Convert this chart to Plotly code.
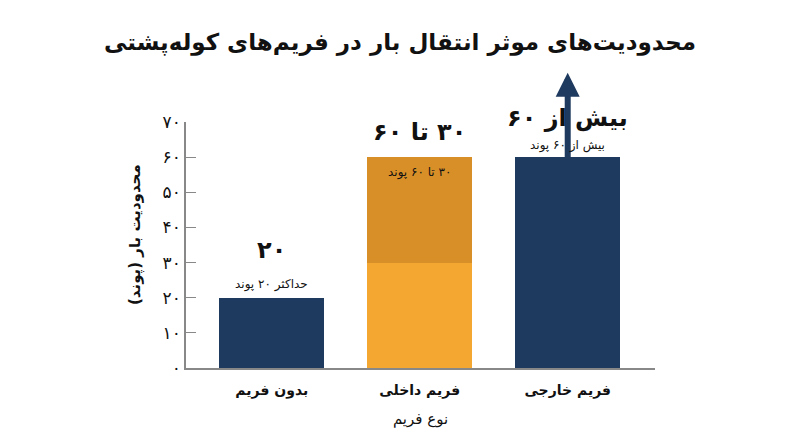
import plotly.graph_objects as go

# داده‌ها
categories = ["بدون فریم", "فریم داخلی", "فریم خارجی"]
base_values = [20, 30, 60]
top_values = [0, 30, 0]
big_labels = ["۲۰", "۳۰ تا ۶۰", "بیش از ۶۰"]
small_labels = ["حداکثر ۲۰ پوند", "۳۰ تا ۶۰ پوند", "بیش از ۶۰ پوند"]
arrow_tip = 84
y_ticks = [0, 10, 20, 30, 40, 50, 60, 70]
y_tick_text = ["۰", "۱۰", "۲۰", "۳۰", "۴۰", "۵۰", "۶۰", "۷۰"]

NAVY = "#1f3a5f"
ORANGE = "#f4a731"
DARK_ORANGE = "#d98f28"
FONT = "DejaVu Sans, sans-serif"


def rtl(s):
    # متن راست‌به‌چپ
    return "\u202b" + s + "\u202c"


fig = go.Figure()

fig.add_trace(go.Bar(
    x=categories,
    y=base_values,
    marker_color=[NAVY, ORANGE, NAVY],
    marker_line_width=0,
    width=0.71,
    hoverinfo="skip",
))
fig.add_trace(go.Bar(
    x=categories,
    y=top_values,
    marker_color=DARK_ORANGE,
    marker_line_width=0,
    width=0.71,
    hoverinfo="skip",
))

totals = [b + t for b, t in zip(base_values, top_values)]

# فلش بالای ستون سوم
fig.add_annotation(
    x=categories[2], y=arrow_tip, ax=categories[2], ay=totals[2] - 1,
    xref="x", yref="y", axref="x", ayref="y",
    showarrow=True, arrowhead=2, arrowsize=0.8, arrowwidth=6,
    arrowcolor=NAVY, text="",
)

# برچسب‌ها
big_shift = [48, 25, 39]
small_shift = [13, -15, 12]
for i, cat in enumerate(categories):
    fig.add_annotation(
        x=cat, y=totals[i], yshift=big_shift[i], text="<b>" + rtl(big_labels[i]) + "</b>",
        showarrow=False, font=dict(family=FONT, size=24, color="#111111"),
    )
    fig.add_annotation(
        x=cat, y=totals[i], yshift=small_shift[i], text=rtl(small_labels[i]),
        showarrow=False, font=dict(family=FONT, size=12, color="#111111"),
    )

# عنوان محور عمودی
fig.add_annotation(
    xref="paper", yref="paper", x=0, y=0.5, xanchor="center", yanchor="middle",
    xshift=-51, yshift=10,
    text="<b>" + rtl("محدودیت بار (پوند)") + "</b>", textangle=-90,
    showarrow=False, font=dict(family=FONT, size=15, color="#111111"),
)

fig.update_layout(
    width=800, height=447,
    barmode="stack",
    showlegend=False,
    plot_bgcolor="white",
    paper_bgcolor="white",
    margin=dict(l=178, r=153, t=114, b=87),
    font=dict(family=FONT, color="#111111"),
    title=dict(
        text="<b>" + rtl("محدودیت‌های موثر انتقال بار در فریم‌های کوله‌پشتی") + "</b>",
        x=0.49, xanchor="center", y=0.924, yanchor="middle",
        font=dict(size=23, family=FONT, color="#111111"),
    ),
)

fig.update_xaxes(
    range=[-0.58, 2.59],
    showline=True, linecolor="#888888", linewidth=1.5,
    ticks="", ticklabelstandoff=8,
    tickvals=categories, ticktext=["<b>" + c + "</b>" for c in categories],
    tickfont=dict(size=14, color="#111111"),
    title=dict(text=rtl("نوع فریم"), font=dict(size=15), standoff=16),
    automargin=False,
)
fig.update_yaxes(
    range=[0, 70],
    tickvals=y_ticks, ticktext=y_tick_text,
    showline=True, linecolor="#888888", linewidth=1.5,
    showgrid=False, zeroline=False,
    ticks="inside", ticklen=10, tickcolor="#888888", tickwidth=1,
    tickfont=dict(size=17, color="#111111"),
    automargin=False,
)

fig.write_html("out.html")
